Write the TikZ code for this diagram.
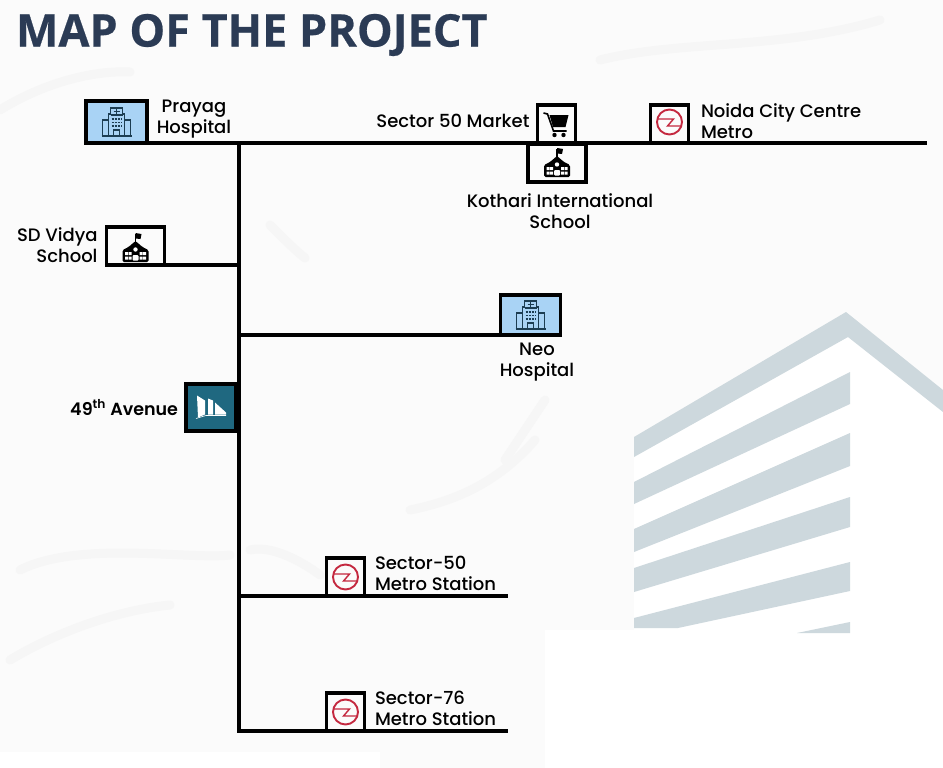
\documentclass[tikz,border=0pt]{standalone}
\usepackage{fontspec}
\setmainfont{Poppins}
\newfontfamily\titlefont{Open Sans}[BoldFont=* Bold, BoldFeatures={FakeBold=0.5}]
\newfontfamily\labelfont{Poppins Medium}
\newfontfamily\strongfont{Poppins SemiBold}
\usetikzlibrary{calc}

\definecolor{titlenavy}{HTML}{2B3B55}
\definecolor{iconnavy}{HTML}{1C3D52}
\definecolor{hospitalblue}{HTML}{A9D3F5}
\definecolor{projectteal}{HTML}{1F6880}
\definecolor{metrored}{HTML}{C4283F}
\definecolor{buildinggrey}{HTML}{CDD8DD}
\definecolor{marblegrey}{HTML}{FBFBFB}

\tikzset{
    mapbox/.style={draw=black, line width=3.6pt, fill=marblegrey},
    maplabel/.style={font=\labelfont\fontsize{18}{20.8}\selectfont, align=center, text=black},
    road/.style={draw=black, line width=3.6pt},
    vein/.style={line width=9pt, color=marblegrey!98!black, line cap=round},
    hospital icon/.pic={
        \draw[iconnavy, line width=1.5pt] (-8,14) -- (-8,-8) -- (-6,-8) -- (-6,-14) -- (6,-14) -- (6,-8) -- (8,-8) -- (8,14);
        \draw[iconnavy, line width=1.5pt] (-14,14) -- (-14,-2) -- (-8,-2) (14,14) -- (14,-2) -- (8,-2) (-15,14) -- (15,14);
        \draw[iconnavy, line width=1.2pt] (-6,-7) -- (6,-7);
        \draw[iconnavy, line width=1.5pt] (-3,14) -- (-3,8) -- (3,8) -- (3,14);
        \draw[iconnavy, line width=1.2pt] (-3,-10.5) -- (3,-10.5) (0,-13) -- (0,-8);
        \foreach \rowy in {-3,0.5,4}
            \draw[iconnavy, line width=1.2pt, dash pattern=on 2pt off 1.2pt] (-5,\rowy) -- (5,\rowy);
    },
    school icon/.pic={
        \draw[black, line width=1.3pt] (0,-5) -- (0,-14);
        \fill[black] (0,-15) -- (6,-14) -- (5,-9) -- (0,-9.5) -- cycle;
        \fill[black, rounded corners=1.5pt] (-13,14) -- (-13,2) -- (-7,-1) -- (0,-7) -- (7,-1) -- (13,2) -- (13,14) -- cycle;
        \fill[white] (0,1.5) circle (2.2);
        \fill[white, rounded corners=1pt] (-3,12.5) -- (-3,7) -- (3,7) -- (3,12.5) -- cycle;
        \foreach \winx in {-10.5,-7,4,7.5}
            \fill[white] (\winx,4) rectangle ++(3,3.2) (\winx,8.5) rectangle ++(3,3.2);
    },
    cart icon/.pic={
        \draw[black, line width=1.6pt] (-13,-10) -- (-9,-9) -- (-3,8) -- (10,8);
        \fill[black] (-7,-8) -- (12,-8) -- (9,4) -- (-3.5,4) -- cycle;
        \fill[black] (-2,12) circle (2.2) (7,12) circle (2.2);
    },
    metro icon/.pic={
        \draw[metrored, line width=1.9pt] (0,0) circle (12.5);
        \draw[metrored, line width=1.4pt] (-12,-3) -- (4,-3) -- (-2,4) -- (12,4);
    },
    project icon/.pic={
        \fill[white] (-14,-12) -- (-6,-7) -- (-6,7) -- (-13,10) -- cycle;
        \fill[white] (-3,-9) -- (2,-7) -- (2,7) -- (-3,7) -- cycle;
        \fill[white] (4,-5) -- (15,5) -- (15,7) -- (4,7) -- cycle;
        \draw[white, line width=0.6pt] (-15,11) -- (-5,8) -- (15,8);
    },
}

\begin{document}
\begin{tikzpicture}[inner sep=0pt,outer sep=0pt,x=1pt,y=-1pt]
    \useasboundingbox (0,0) rectangle (943,768);

    % backdrop
    \fill[marblegrey] (0,0) rectangle (943,768);
    \draw[vein] (0,110) .. controls (40,85) and (90,70) .. (130,72);
    \draw[vein] (270,225) .. controls (285,240) and (295,250) .. (305,258);
    \draw[vein] (545,400) .. controls (525,430) and (515,445) .. (505,460);
    \draw[vein] (20,570) .. controls (80,540) and (190,560) .. (230,555);
    \draw[vein] (250,550) .. controls (270,545) and (300,560) .. (320,575);
    \draw[vein] (10,660) .. controls (60,630) and (120,610) .. (170,605);
    \draw[vein] (410,510) .. controls (460,500) and (500,480) .. (535,440);
    \draw[vein] (600,60) .. controls (680,40) and (780,50) .. (880,20);
    \fill[white] (545,630) rectangle (943,768);
    \fill[white] (0,752) rectangle (380,768);

    % building
    \fill[white] (634,457) -- (848,337) -- (943,412) -- (943,632) -- (634,632) -- cycle;
    \fill[buildinggrey] (634,437) -- (846,312) -- (943,390) -- (943,412) -- (848,337) -- (634,457) -- cycle;
    \fill[buildinggrey] (634,482) -- (850,372) -- (850,404) -- (634,504) -- cycle;
    \fill[buildinggrey] (634,529) -- (850,433) -- (850,466) -- (634,552) -- cycle;
    \fill[buildinggrey] (634,568) -- (850,497) -- (850,527) -- (634,592) -- cycle;
    \fill[buildinggrey] (634,618) -- (850,562) -- (850,591) -- (678,628) -- (634,628) -- cycle;
    \fill[buildinggrey] (797,633) -- (850,622) -- (850,633) -- cycle;

    % title
    \node[anchor=west, font=\titlefont\bfseries\fontsize{45}{50}\selectfont, text=titlenavy] (map_title) at (16,35)
    {MAP OF THE PROJECT};

    % boxes
    \node[mapbox, fill=hospitalblue, minimum width=61pt, minimum height=42pt] (prayag) at (116.5,122) {};
    \node[mapbox, minimum width=38pt, minimum height=38pt] (market) at (556.5,124) {};
    \node[mapbox, minimum width=38pt, minimum height=38pt] (noida) at (669.5,124) {};
    \node[mapbox, minimum width=58pt, minimum height=38pt] (kothari) at (557,163) {};
    \node[mapbox, minimum width=58pt, minimum height=38pt] (vidya) at (135.5,246) {};
    \node[mapbox, fill=hospitalblue, minimum width=60pt, minimum height=40pt] (neo) at (530.5,315) {};
    \node[mapbox, fill=projectteal, minimum width=50pt, minimum height=47pt] (avenue) at (211,407.5) {};
    \node[mapbox, minimum width=38pt, minimum height=38pt] (metro_50) at (345.5,577) {};
    \node[mapbox, minimum width=38pt, minimum height=38pt] (metro_76) at (345.5,712) {};

    % icons
    \pic at (prayag) {hospital icon};
    \pic at ($(market) + (0,-1)$) {cart icon};
    \pic at ($(noida) + (0,-2)$) {metro icon};
    \pic at (kothari) {school icon};
    \pic at ($(vidya) + (0,2)$) {school icon};
    \pic at (neo) {hospital icon};
    \pic at (avenue) {project icon};
    \pic at (metro_50) {metro icon};
    \pic at (metro_76) {metro icon};

    % roads
    \coordinate (top_end) at (927,143);
    \coordinate (trunk_top) at (239,143);
    \coordinate (trunk_end) at (239,733);
    \coordinate (metro_50_end) at (508,596);
    \coordinate (metro_76_end) at (508,731);
    \draw[road] (prayag.south west) -- (top_end);
    \draw[road] (trunk_top) -- (trunk_end);
    \draw[road] (vidya.south west) -- (trunk_top |- vidya.south);
    \draw[road] (trunk_top |- neo.south) -- (neo.south east);
    \draw[road] (trunk_top |- metro_50_end) -- (metro_50_end);
    \draw[road] (trunk_end |- metro_76_end) -- (metro_76_end);

    % labels
    \node[maplabel] (prayag_cap) at ($(prayag.east) + (47pt, 3pt)$) {Prayag\\Hospital};
    \node[maplabel, anchor=east] (market_cap) at ($(market.west) + (-8pt, 3pt)$) {Sector 50 Market};
    \node[maplabel, anchor=west, align=left] (noida_cap) at ($(noida.east) + (12.5pt, 3pt)$) {Noida City Centre\\Metro};
    \node[maplabel] (kothari_cap) at ($(kothari.south) + (3pt, -29.5pt)$) {Kothari International\\School};
    \node[maplabel, anchor=east, align=right] (vidya_cap) at ($(vidya.west) + (-9pt, 0.5pt)$) {SD Vidya\\School};
    \node[maplabel] (neo_cap) at ($(neo.south) + (6.5pt, -27pt)$) {Neo\\Hospital};
    \node[maplabel, anchor=east, font=\strongfont\fontsize{17.5}{20.5}\selectfont] (avenue_cap) at ($(avenue.west) + (-8pt, 0)$) {49\textsuperscript{th} Avenue};
    \node[maplabel, anchor=west, align=left] (metro_50_cap) at ($(metro_50.east) + (10.5pt, 3.5pt)$) {Sector-50\\Metro Station};
    \node[maplabel, anchor=west, align=left] (metro_76_cap) at ($(metro_76.east) + (10.5pt, 3.5pt)$) {Sector-76\\Metro Station};
\end{tikzpicture}
\end{document}
